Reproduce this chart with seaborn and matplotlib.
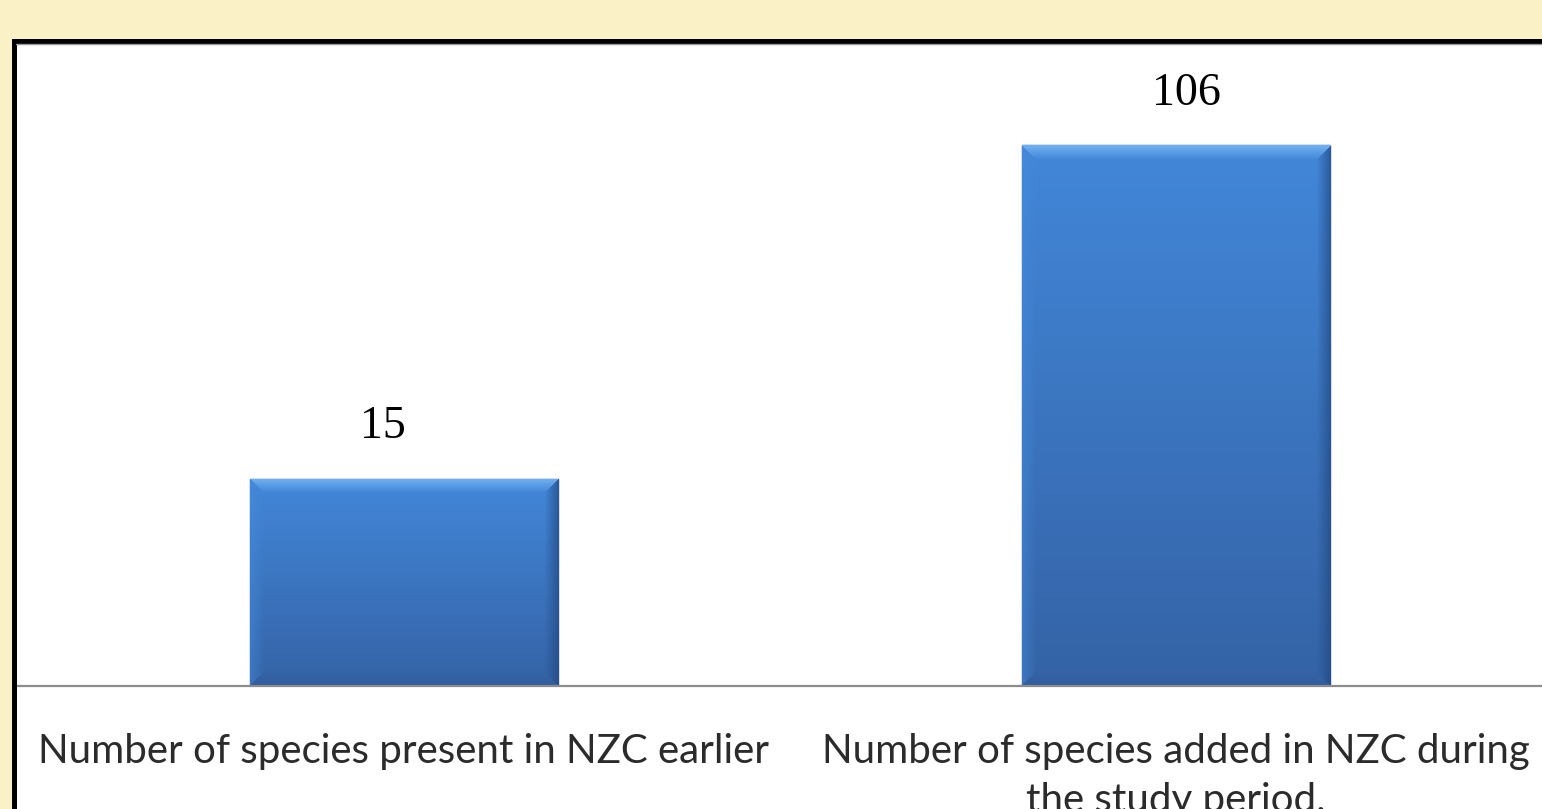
import numpy as np
import pandas as pd
import matplotlib
matplotlib.use("Agg")
import matplotlib.pyplot as plt
from matplotlib.patches import Rectangle
import seaborn as sns

# ---- data ----
categories = ["Number of species present in NZC earlier",
              "Number of species added in NZC during\nthe study period."]
values = [15, 106]
value_labels = ["15", "106"]

W, H, DPI = 1542, 809, 100
sns.set_theme(style="white")
plt.rcParams["font.family"] = ["Lato", "DejaVu Sans"]

fig = plt.figure(figsize=(W / DPI, H / DPI), dpi=DPI, facecolor="#FBF1C6")

# white framed panel (black border on top/left, runs off the image right/bottom)
fig.add_artist(Rectangle((13.5 / W, -20 / H), (W + 40) / W, (H - 40.5 + 20) / H,
                         transform=fig.transFigure, facecolor="white",
                         edgecolor="black", linewidth=3.6, zorder=-5))
fig.add_artist(plt.Line2D([16 / W, 1.0], [(H - 43.5) / H] * 2, transform=fig.transFigure,
                          color="#9a9a9a", linewidth=1.0, zorder=-4))

ax = fig.add_axes([18 / W, 123 / H, 1544 / W, 643 / H])
ax.set_facecolor("none")

df = pd.DataFrame({"category": categories, "value": values})
sns.barplot(data=df, x="category", y="value", color="#3F7DCB", saturation=1,
            width=0.4, edgecolor="#23508a", linewidth=1.0, ax=ax)

POW = 0.49
YTOP = 151.0
ax.set_yscale("function", functions=(lambda v: np.power(np.clip(v, 0, None), POW),
                                     lambda t: np.power(np.clip(t, 0, None), 1 / POW)))
ax.set_xlim(-0.5, 1.5)
ax.set_ylim(0, YTOP)

for s in ["top", "right", "left"]:
    ax.spines[s].set_visible(False)
ax.spines["bottom"].set_color("#8c8c8c")
ax.spines["bottom"].set_linewidth(1.6)
ax.set_yticks([])
ax.set_xlabel("")
ax.set_ylabel("")
ax.tick_params(axis="x", length=0, pad=34, labelsize=29, labelcolor="#2b2b2b")
for t in ax.get_xticklabels():
    t.set_linespacing(1.4)

# gradient / bevel fill for each bar
def bevel_image(wpx, hpx, b=14):
    yy, xx = np.mgrid[0:hpx, 0:wpx].astype(float)
    t = yy / max(hpx - 1, 1)
    top = np.array([66, 135, 217]) / 255.0
    bot = np.array([52, 99, 166]) / 255.0
    img = top[None, None, :] * (1 - t[..., None]) + bot[None, None, :] * t[..., None]
    d_top, d_bot = yy, hpx - 1 - yy
    d_left, d_right = xx, wpx - 1 - xx
    d = np.stack([d_top, d_right, d_bot, d_left])
    side = np.argmin(d, axis=0)
    dm = np.min(d, axis=0)
    w = np.clip(1 - dm / b, 0, 1)[..., None]
    cols = {0: np.array([120, 185, 245]) / 255.0,
            1: np.array([34, 72, 128]) / 255.0,
            2: np.array([45, 85, 145]) / 255.0,
            3: np.array([70, 140, 220]) / 255.0}
    out = img.copy()
    for k, c in cols.items():
        m = (side == k)[..., None]
        strength = 0.85 if k == 0 else (0.7 if k == 1 else 0.45)
        blend = img * (1 - w * strength) + c[None, None, :] * (w * strength)
        out = np.where(m, blend, out)
    return np.clip(out, 0, 1)

inv = ax.transAxes.inverted()
for p in list(ax.patches):
    x0, x1 = p.get_x(), p.get_x() + p.get_width()
    y1 = p.get_height()
    (dx0, dy0), (dx1, dy1) = ax.transData.transform([(x0, 0), (x1, y1)])
    (ax0, ay0), (ax1, ay1) = inv.transform([(dx0, dy0), (dx1, dy1)])
    img = bevel_image(int(round(dx1 - dx0)), int(round(dy1 - dy0)))
    im = ax.imshow(img, extent=(ax0, ax1, ay0, ay1), transform=ax.transAxes,
                   aspect="auto", interpolation="bilinear", zorder=p.get_zorder() + 0.1)
    im.set_clip_path(p)

ax.set_xlim(-0.5, 1.5)
ax.set_ylim(0, YTOP)

# value labels
offsets = [-0.028, 0.014]
for i, (v, lab) in enumerate(zip(values, value_labels)):
    ax.annotate(lab, xy=(i + offsets[i], v), xytext=(0, 29), textcoords="offset points",
                ha="center", va="baseline", fontsize=33, color="black",
                family=["Liberation Serif", "DejaVu Serif"])

fig.savefig("out.png", dpi=DPI, facecolor=fig.get_facecolor())
